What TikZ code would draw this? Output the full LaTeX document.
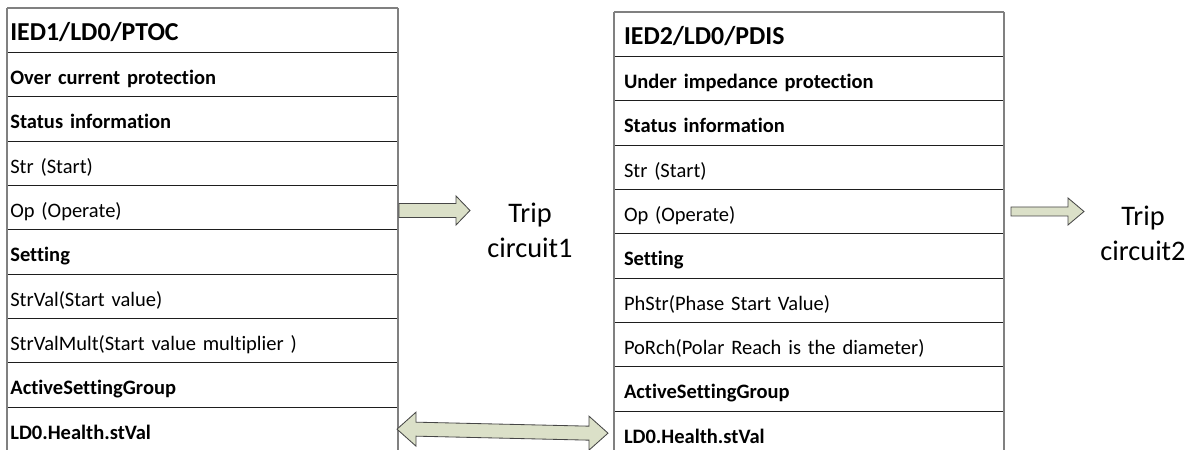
\documentclass[tikz,border=0pt]{standalone}
\usepackage{fontspec}
\setmainfont{Carlito}[Ligatures=NoCommon]
\usepackage{xcolor}
\usetikzlibrary{positioning, calc}

\definecolor{arrowfill}{RGB}{219,224,200}
\definecolor{arrowline}{RGB}{70,70,70}
\definecolor{tabline}{RGB}{30,30,30}
\definecolor{sideline}{RGB}{128,128,128}

\tikzset{
  cell/.style={draw=tabline, line width=0.5pt, outer sep=0pt, inner ysep=2pt,
    minimum height=26.6pt, align=left, text height=12pt, text depth=0pt,
    font=\fontsize{12.3}{14.8}\selectfont},
  lcell/.style={cell, minimum width=234.6pt, text width=230.6pt, inner xsep=2pt},
  rcell/.style={cell, minimum width=234pt, text width=222pt, inner xsep=6pt},
  headcell/.style={font=\fontsize{15.5}{18}\selectfont\bfseries},
  sideline/.style={draw=sideline, line width=1.2pt},
  blockarrow/.style={draw=arrowline, line width=0.5pt, fill=arrowfill, line join=miter},
  tripnote/.style={align=center, font=\fontsize{17}{21}\selectfont}
}

\begin{document}
\begin{tikzpicture}[x=0.6pt, y=-0.6pt]
  \useasboundingbox (0,0) rectangle (1195,450);
  % --- IED1 (PTOC) ---
  \node[lcell, headcell, anchor=north west] (l1) at (7,8) {IED1/LD0/PTOC};
  \foreach \txt [count=\i from 2] in {{\bfseries Over current protection},
      {\bfseries Status information}, Str (Start), Op (Operate), {\bfseries Setting},
      StrVal(Start value), StrValMult(Start value multiplier ),
      {\bfseries ActiveSettingGroup}, {\bfseries LD0.Health.stVal}} {
    \pgfmathtruncatemacro\prev{\i-1}
    \node[lcell, below=0pt of l\prev] (l\i) {\txt};
  }
  \draw[sideline] (l1.north west) -- (l10.south west);
  \draw[sideline] (l1.north east) -- (l10.south east);
  \draw[sideline] (l1.north west) -- (l1.north east);
  % --- IED2 (PDIS) ---
  \node[rcell, headcell, anchor=north west] (r1) at (614,12) {IED2/LD0/PDIS};
  \foreach \txt [count=\i from 2] in {{\bfseries Under impedance protection},
      {\bfseries Status information}, Str (Start), Op (Operate), {\bfseries Setting},
      PhStr(Phase Start Value), PoRch(Polar Reach is the diameter),
      {\bfseries ActiveSettingGroup}, {\bfseries LD0.Health.stVal}} {
    \pgfmathtruncatemacro\prev{\i-1}
    \node[rcell, below=0pt of r\prev] (r\i) {\txt};
  }
  \draw[sideline] (r1.north west) -- (r10.south west);
  \draw[sideline] (r1.north east) -- (r10.south east);
  \draw[sideline] (r1.north west) -- (r1.north east);
  % --- trip circuits ---
  \node[tripnote] (trip1) at (530,230) {Trip\\circuit1};
  \node[tripnote] (trip2) at (1143,233) {Trip\\circuit2};
  % --- block arrows ---
  \draw[blockarrow] (l5.east) ++(1,-4) -- ++(57,0) -- ++(0,-7.5) -- ++(14,14.5)
    -- ++(-14,14.5) -- ++(0,-7.5) -- ++(-57,0) -- cycle;
  \draw[blockarrow] (r5.east) ++(7,-4.5) -- ++(57,0) -- ++(0,-9) -- ++(16,13.5)
    -- ++(-16,13.5) -- ++(0,-9) -- ++(-57,0) -- cycle;
  \coordinate (dl) at ($(l10.east)+(-1,0)$);
  \coordinate (dr) at ($(r10.west)+(-6,0)$);
  \draw[blockarrow] (dl) -- ++(19,-17) -- ++(0,10) -- ($(dr)+(-19,-7)$) -- ++(0,-10)
    -- (dr) -- ++(-19,17) -- ++(0,-10) -- ($(dl)+(19,7)$) -- ++(0,10) -- cycle;
\end{tikzpicture}
\end{document}
